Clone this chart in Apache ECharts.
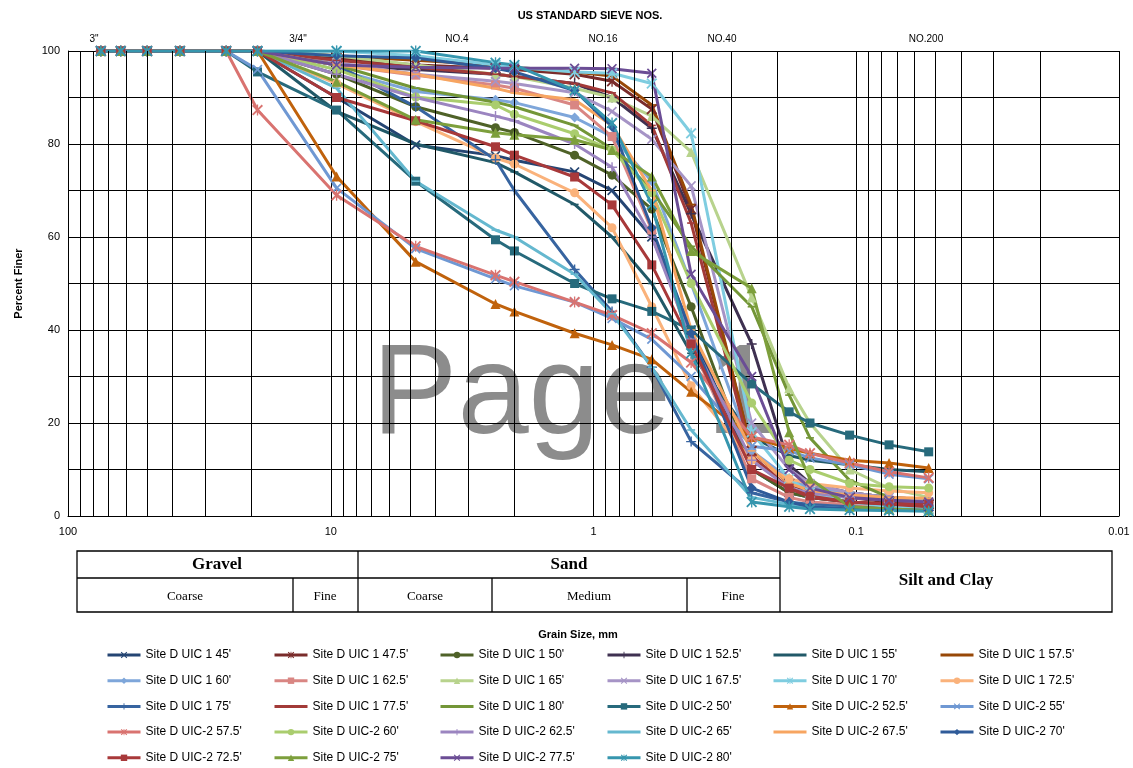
<!DOCTYPE html>
<html>
<head>
<meta charset="utf-8">
<script src="https://cdn.jsdelivr.net/npm/echarts@6/dist/echarts.min.js"></script>
<style>
  html, body { margin: 0; padding: 0; background: #fff; }
  #chart { width: 1133px; height: 768px; }
</style>
</head>
<body>
<div id="chart"></div>
<script>
// sieve openings, mm (x values of every point)
const sieveSizes = [75, 63, 50, 37.5, 25, 19, 9.5, 4.75, 2.36, 2.0, 1.18, 0.85, 0.6, 0.425, 0.25, 0.18, 0.15, 0.106, 0.075, 0.053];

// percent finer per sample
const uic1_45   = [100, 100, 100, 100, 100, 100, 90, 79.8, 77.5, 76.5, 74, 70, 60, 40, 10, 5, 4, 3, 2.5, 2];
const uic1_47_5 = [100, 100, 100, 100, 100, 100, 98.5, 97, 96.3, 96, 95, 93.5, 87.5, 66, 14, 7, 5, 4, 3, 2.5];
const uic1_50   = [100, 100, 100, 100, 100, 100, 95, 88, 83.5, 82.5, 77.6, 73.3, 66, 45, 10, 5, 4, 3, 2.5, 2];
const uic1_52_5 = [100, 100, 100, 100, 100, 100, 97, 96, 95, 94.5, 93, 90, 83.4, 65, 37, 11, 7, 5, 4, 3.5];
const uic1_55   = [100, 100, 100, 100, 100, 100, 87, 80, 76, 74, 67, 60, 50, 35, 17, 13, 12, 11, 10, 9.5];
const uic1_57_5 = [100, 100, 100, 100, 100, 100, 99, 98, 97, 96.5, 95.5, 94.6, 88.4, 67, 14, 7, 6, 5, 4, 3.5];
const uic1_60   = [100, 100, 100, 100, 100, 100, 96, 91.3, 89.5, 88.9, 85.7, 81.6, 72, 50, 14, 8, 6, 5, 4, 3.5];
const uic1_62_5 = [100, 100, 100, 100, 100, 100, 97, 94.8, 92.7, 92, 88.4, 81.6, 61.5, 37, 8, 4, 3, 2.5, 2, 1.5];
const uic1_65   = [100, 100, 100, 100, 100, 100, 99, 97, 95, 94.5, 92, 90, 86, 78.3, 47, 27.5, 20, 10, 6, 4];
const uic1_67_5 = [100, 100, 100, 100, 100, 100, 97.5, 95, 93.5, 93, 91, 87, 81, 71, 20, 10, 7, 5, 4, 3];
const uic1_70   = [100, 100, 100, 100, 100, 100, 100, 99, 97, 96.5, 95.5, 95.2, 93, 82.3, 18, 8, 5, 3, 2, 1.5];
const uic1_72_5 = [100, 100, 100, 100, 100, 100, 93, 84.8, 77, 75.7, 69.5, 62, 45, 28, 12, 8, 7, 6, 5.4, 5];
const uic1_75   = [100, 100, 100, 100, 100, 100, 97, 88, 76.6, 70, 53, 44, 32, 16, 5, 3, 2.5, 2, 1.5, 1.2];
const uic1_77_5 = [100, 100, 100, 100, 100, 100, 98, 96.5, 95, 94.5, 93, 91, 84, 63, 13, 6, 4, 3, 2.5, 2];
const uic1_80   = [100, 100, 100, 100, 100, 100, 97, 92, 89, 88, 84, 79, 70, 58, 45, 26, 16.8, 7.7, 4, 2.5];
const uic2_50   = [100, 100, 100, 100, 100, 95.5, 87.3, 72, 59.4, 57, 50, 46.7, 44, 40, 28.4, 22.4, 20, 17.4, 15.3, 13.8];
const uic2_52_5 = [100, 100, 100, 100, 100, 100, 73, 54.7, 45.6, 44, 39.3, 36.8, 33.7, 26.7, 17, 14.5, 13.5, 12, 11.4, 10.3];
const uic2_55   = [100, 100, 100, 100, 100, 96, 70.5, 57.5, 51, 49.5, 46, 42.5, 38, 30, 15, 14, 12.5, 11, 9, 8];
const uic2_57_5 = [100, 100, 100, 100, 100, 87.3, 69, 58, 51.8, 50.4, 46, 43.2, 39.3, 33, 17, 15.3, 13.5, 11.4, 9.5, 8.2];
const uic2_60   = [100, 100, 100, 100, 100, 100, 96, 90.1, 88.4, 86.4, 82.2, 78.7, 69.5, 50, 24.3, 12, 10, 7, 6.3, 6];
const uic2_62_5 = [100, 100, 100, 100, 100, 100, 95, 90, 86, 85, 80, 75, 60, 38, 12, 6, 5, 4, 3.4, 3];
const uic2_65   = [100, 100, 100, 100, 100, 100, 92, 72, 61.5, 60, 52, 43.5, 32, 18.5, 4, 2.5, 2, 1.5, 1.3, 1.2];
const uic2_67_5 = [100, 100, 100, 100, 100, 100, 97, 95, 92, 91, 89.5, 84, 70, 40, 14, 7, 5.5, 4.5, 4, 3.8];
const uic2_70   = [100, 100, 100, 100, 100, 100, 99, 98.5, 96.3, 95.5, 91.5, 83.7, 62, 39.3, 6, 3, 2, 1.5, 1.3, 1.2];
const uic2_72_5 = [100, 100, 100, 100, 100, 100, 90, 85, 79.4, 77.6, 72.9, 66.9, 54, 37, 10, 6, 4.3, 3, 2.6, 2.6];
const uic2_75   = [100, 100, 100, 100, 100, 100, 93.4, 85.2, 82.4, 82, 80.9, 78.7, 73, 57, 49, 18, 8, 2, 1.5, 1.2];
const uic2_77_5 = [100, 100, 100, 100, 100, 100, 97, 96.5, 96.3, 96.3, 96.3, 96.2, 95.2, 52, 30, 10, 6, 4, 3.4, 3];
const uic2_80   = [100, 100, 100, 100, 100, 100, 100, 100, 97.5, 97, 91.5, 84.5, 67, 35, 3, 2, 1.5, 1.3, 1.2, 1];

const seriesNames = [
  "Site D UIC 1 45'", "Site D UIC 1 47.5'", "Site D UIC 1 50'", "Site D UIC 1 52.5'", "Site D UIC 1 55'", "Site D UIC 1 57.5'",
  "Site D UIC 1 60'", "Site D UIC 1 62.5'", "Site D UIC 1 65'", "Site D UIC 1 67.5'", "Site D UIC 1 70'", "Site D UIC 1 72.5'",
  "Site D UIC 1 75'", "Site D UIC 1 77.5'", "Site D UIC 1 80'", "Site D UIC-2 50'", "Site D UIC-2 52.5'", "Site D UIC-2 55'",
  "Site D UIC-2 57.5'", "Site D UIC-2 60'", "Site D UIC-2 62.5'", "Site D UIC-2 65'", "Site D UIC-2 67.5'", "Site D UIC-2 70'",
  "Site D UIC-2 72.5'", "Site D UIC-2 75'", "Site D UIC-2 77.5'", "Site D UIC-2 80'"
];
const seriesValues = [
  uic1_45, uic1_47_5, uic1_50, uic1_52_5, uic1_55, uic1_57_5,
  uic1_60, uic1_62_5, uic1_65, uic1_67_5, uic1_70, uic1_72_5,
  uic1_75, uic1_77_5, uic1_80, uic2_50, uic2_52_5, uic2_55,
  uic2_57_5, uic2_60, uic2_62_5, uic2_65, uic2_67_5, uic2_70,
  uic2_72_5, uic2_75, uic2_77_5, uic2_80
];
const seriesColors = [
  '#254573', '#7a2c2b', '#4f6228', '#3f3151', '#215968', '#984807',
  '#7ea6da', '#d98683', '#b8d38d', '#a694c6', '#7fcde0', '#fab27b',
  '#3764a0', '#a23a38', '#739637', '#276a7c', '#c0620c', '#6f98d3',
  '#d97370', '#aacd6e', '#9b85c0', '#65b8cf', '#f7a561', '#2f5b99',
  '#a8393a', '#7d9f3c', '#6b4d95', '#3696ae'
];
const seriesMarkers = [
  'x', 'star', 'circle', 'plus', 'dash', 'dash',
  'diamond', 'rect', 'triangle', 'x', 'star', 'circle',
  'plus', 'dash', 'dash', 'rect', 'triangle', 'x',
  'star', 'circle', 'plus', 'dash', 'dash', 'diamond',
  'rect', 'triangle', 'x', 'star'
];

// log grid lines between decades
const minorGridValues = [90, 80, 70, 60, 50, 40, 30, 20, 9, 8, 7, 6, 5, 4, 3, 2,
  0.9, 0.8, 0.7, 0.6, 0.5, 0.4, 0.3, 0.2, 0.09, 0.08, 0.07, 0.06, 0.05, 0.04, 0.03, 0.02];
const xTickLabels = ['100', '10', '1', '0.1', '0.01'];
const sieveLabels = ['3"', '3/4"', 'NO.4', 'NO.16', 'NO.40', 'NO.200'];
const sieveLabelX = [94, 298, 457, 603, 722, 926];

const markerPaths = {
  x: 'path://M0,1.2L1.2,0L5,3.8L8.8,0L10,1.2L6.2,5L10,8.8L8.8,10L5,6.2L1.2,10L0,8.8L3.8,5Z',
  star: 'path://M0,1.2L1.2,0L5,3.8L8.8,0L10,1.2L6.2,5L10,8.8L8.8,10L5,6.2L1.2,10L0,8.8L3.8,5ZM4.4,0H5.6V10H4.4Z',
  plus: 'path://M4.3,0H5.7V4.3H10V5.7H5.7V10H4.3V5.7H0V4.3H4.3Z',
  // thin bar inside a 10x10 box (the lone moves keep the box square)
  dash: 'path://M0,0M10,10M1,4.2H9V5.8H1Z'
};
function markerOf(m) {
  if (m === 'x') return { symbol: markerPaths.x, size: 10 };
  if (m === 'star') return { symbol: markerPaths.star, size: 11 };
  if (m === 'plus') return { symbol: markerPaths.plus, size: 10 };
  if (m === 'dash') return { symbol: markerPaths.dash, size: 10 };
  if (m === 'diamond') return { symbol: 'diamond', size: 10 };
  if (m === 'triangle') return { symbol: 'triangle', size: 10 };
  if (m === 'rect') return { symbol: 'rect', size: 9 };
  return { symbol: 'circle', size: 9 };
}

const series = seriesValues.map((vals, i) => {
  let mk = markerOf(seriesMarkers[i]);
  return {
    name: seriesNames[i],
    type: 'line',
    data: sieveSizes.map((s, j) => [s, vals[j]]),
    symbol: mk.symbol,
    symbolSize: mk.size,
    showAllSymbol: true,
    lineStyle: { width: 3, color: seriesColors[i] },
    itemStyle: { color: seriesColors[i] },
    emphasis: { disabled: true }
  };
});

// helper series carrying the vertical minor grid lines
series.unshift({
  name: 'grid',
  type: 'line',
  data: [],
  silent: true,
  markLine: {
    silent: true,
    symbol: 'none',
    label: { show: false },
    lineStyle: { color: '#000', width: 1, type: 'solid' },
    data: minorGridValues.map(v => ({ xAxis: v }))
  }
});

// legend laid out in 6 columns
const colX = [106, 273, 439, 606, 772, 939];
const legends = colX.map((x, c) => ({
  orient: 'vertical',
  left: x,
  top: 649,
  height: 115,
  padding: 0,
  itemWidth: 33,
  itemHeight: 8,
  itemGap: 13.7,
  lineStyle: { width: 3 },
  textStyle: { fontFamily: 'Liberation Sans, Arial', fontSize: 12, lineHeight: 12, color: '#000' },
  data: seriesNames.filter((n, i) => i % 6 === c)
}));

// classification table under the axis
const tbl = { left: 77, right: 1112, top: 551, mid: 578, bottom: 612 };
const tableLine = (x1, y1, x2, y2) => ({
  type: 'line', silent: true,
  shape: { x1, y1, x2, y2 },
  style: { stroke: '#000', lineWidth: 1.3 }
});
const tableText = (x, y, t, size, bold) => ({
  type: 'text', silent: true,
  style: {
    x, y, text: t, textAlign: 'center', textVerticalAlign: 'middle',
    font: (bold ? 'bold ' : '') + size + 'px "Liberation Serif", "Times New Roman", serif',
    fill: '#000'
  }
});

let chart = echarts.init(document.getElementById('chart'));
chart.setOption({
  animation: false,
  backgroundColor: '#fff',
  grid: { left: 68, right: 14, top: 51, bottom: 252, show: false },
  legend: legends,
  xAxis: {
    type: 'log',
    logBase: 10,
    min: 0.01,
    max: 100,
    inverse: true,
    axisLine: { show: true, lineStyle: { color: '#000' } },
    axisTick: { show: false },
    axisLabel: {
      margin: 10,
      fontFamily: 'Liberation Sans, Arial',
      fontSize: 11,
      color: '#000',
      formatter: v => {
        let e = Math.round(Math.log10(v));
        return xTickLabels[2 - e];
      }
    },
    splitLine: { show: true, lineStyle: { color: '#000', width: 1 } }
  },
  yAxis: {
    type: 'value',
    min: 0,
    max: 100,
    interval: 20,
    name: 'Percent Finer',
    nameLocation: 'middle',
    nameRotate: 90,
    nameGap: 44,
    nameTextStyle: { fontFamily: 'Liberation Sans, Arial', fontSize: 11, fontWeight: 'bold', color: '#000' },
    axisLine: { show: true, lineStyle: { color: '#000' } },
    axisTick: { show: false },
    axisLabel: { margin: 8, fontFamily: 'Liberation Sans, Arial', fontSize: 11, color: '#000' },
    splitLine: { show: true, lineStyle: { color: '#000', width: 1 } },
    minorTick: { show: false, splitNumber: 2 },
    minorSplitLine: { show: true, lineStyle: { color: '#000', width: 1 } }
  },
  graphic: [
    {
      type: 'text', silent: true, z: -10,
      style: {
        x: 372, y: 398, text: 'Page 1', textAlign: 'left', textVerticalAlign: 'middle',
        font: '128px "Liberation Sans", Arial, sans-serif', fill: '#8c8c8c'
      }
    },
    {
      type: 'text', silent: true,
      style: {
        x: 590, y: 16, text: 'US STANDARD SIEVE NOS.', textAlign: 'center', textVerticalAlign: 'middle',
        font: 'bold 11px "Liberation Sans", Arial, sans-serif', fill: '#000'
      }
    },
    ...sieveLabels.map((t, i) => ({
      type: 'text', silent: true,
      style: {
        x: sieveLabelX[i], y: 39, text: t, textAlign: 'center', textVerticalAlign: 'middle',
        font: '10px "Liberation Sans", Arial, sans-serif', fill: '#000'
      }
    })),
    {
      type: 'rect', silent: true,
      shape: { x: tbl.left, y: tbl.top, width: tbl.right - tbl.left, height: tbl.bottom - tbl.top },
      style: { fill: 'none', stroke: '#000', lineWidth: 1.3 }
    },
    tableLine(tbl.left, tbl.mid, 780, tbl.mid),
    tableLine(358, tbl.top, 358, tbl.bottom),
    tableLine(780, tbl.top, 780, tbl.bottom),
    tableLine(293, tbl.mid, 293, tbl.bottom),
    tableLine(492, tbl.mid, 492, tbl.bottom),
    tableLine(687, tbl.mid, 687, tbl.bottom),
    tableText(217, 565, 'Gravel', 17, true),
    tableText(569, 565, 'Sand', 17, true),
    tableText(946, 581, 'Silt and Clay', 17, true),
    tableText(185, 597, 'Coarse', 13, false),
    tableText(325, 597, 'Fine', 13, false),
    tableText(425, 597, 'Coarse', 13, false),
    tableText(589, 597, 'Medium', 13, false),
    tableText(733, 597, 'Fine', 13, false),
    {
      type: 'text', silent: true,
      style: {
        x: 578, y: 635, text: 'Grain Size, mm', textAlign: 'center', textVerticalAlign: 'middle',
        font: 'bold 11px "Liberation Sans", Arial, sans-serif', fill: '#000'
      }
    }
  ],
  series: series
});
</script>
</body>
</html>
